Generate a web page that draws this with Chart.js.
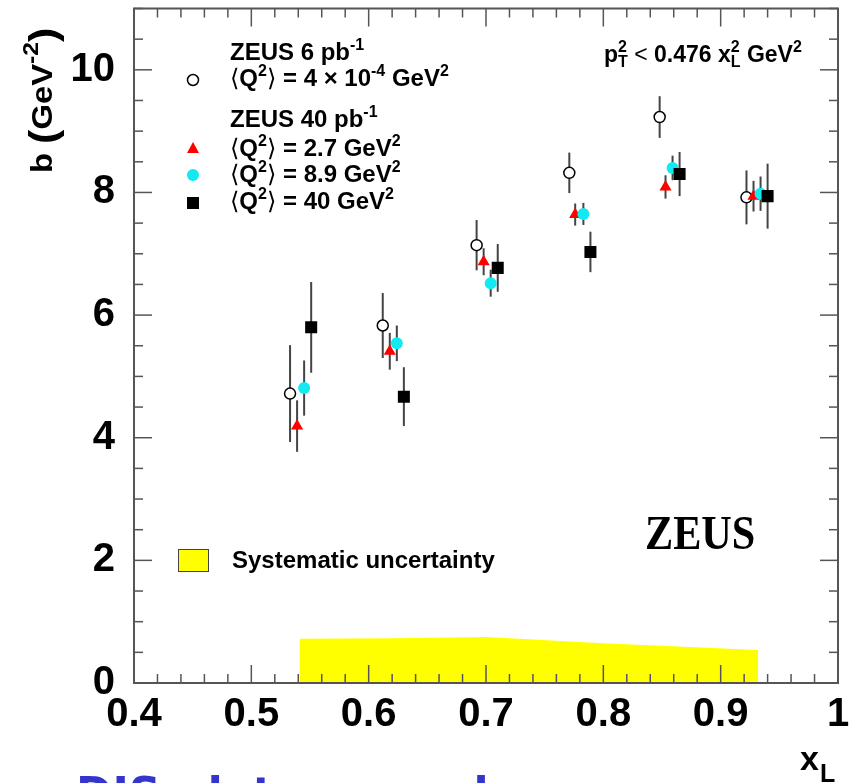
<!DOCTYPE html>
<html>
<head>
<meta charset="utf-8">
<script src="https://cdn.jsdelivr.net/npm/chart.js@4.4.0/dist/chart.umd.min.js"></script>
<style>
html, body { margin: 0; padding: 0; background: #fff; }
canvas { display: block; }
</style>
</head>
<body>
<canvas id="slopeChart" width="852" height="783"></canvas>
<script>
// ZEUS 6 pb-1, <Q2> = 4e-4 GeV2 (open circles)
const xCircle = [0.533, 0.612, 0.692, 0.771, 0.848, 0.922];
const bCircle = [4.72, 5.83, 7.14, 8.32, 9.23, 7.92];
const errCircle = [0.79, 0.53, 0.41, 0.33, 0.34, 0.44];

// ZEUS 40 pb-1, <Q2> = 2.7 GeV2 (red triangles)
const xTriangle = [0.539, 0.618, 0.698, 0.776, 0.853, 0.928];
const bTriangle = [4.19, 5.41, 6.87, 7.64, 8.09, 7.94];
const errTriangle = [0.42, 0.30, 0.22, 0.18, 0.19, 0.25];

// <Q2> = 8.9 GeV2 (cyan dots)
const xCyan = [0.545, 0.624, 0.704, 0.783, 0.859, 0.934];
const bCyan = [4.81, 5.54, 6.52, 7.65, 8.40, 7.98];
const errCyan = [0.45, 0.29, 0.22, 0.18, 0.20, 0.28];

// <Q2> = 40 GeV2 (black squares)
const xSquare = [0.551, 0.630, 0.710, 0.789, 0.865, 0.940];
const bSquare = [5.80, 4.67, 6.77, 7.03, 8.30, 7.94];
const errSquare = [0.74, 0.48, 0.39, 0.33, 0.36, 0.53];

// systematic uncertainty band
const xSyst = [0.541, 0.62, 0.70, 0.80, 0.932];
const syst = [0.72, 0.73, 0.75, 0.65, 0.54];

// axis ticks
const xTicks = [0.4, 0.5, 0.6, 0.7, 0.8, 0.9, 1.0];
const yTicks = [0, 2, 4, 6, 8, 10];

const FONT = '"Liberation Sans", Arial, "DejaVu Sans", sans-serif';

function points(xs, ys) {
    return xs.map((x, i) => ({ x: x, y: ys[i] }));
}

// text with superscripts / subscripts
function drawRich(ctx, x, y, parts, size) {
    parts.forEach(p => {
        if (p.t !== undefined) {
            ctx.font = (p.light ? '' : 'bold ') + size + 'px ' + FONT;
            ctx.fillText(p.t, x, y);
            x += ctx.measureText(p.t).width;
        } else {
            const small = Math.round(size * 0.68);
            ctx.font = 'bold ' + small + 'px ' + FONT;
            let w = 0;
            if (p.sup) {
                ctx.fillText(p.sup, x, y - size * 0.42);
                w = ctx.measureText(p.sup).width;
            }
            if (p.sub) {
                ctx.fillText(p.sub, x, y + size * 0.22);
                w = Math.max(w, ctx.measureText(p.sub).width);
            }
            x += w;
        }
    });
    return x;
}

const errorBars = {
    id: 'errorBars',
    beforeDatasetsDraw(chart) {
        const ctx = chart.ctx;
        const xs = chart.scales.x, ys = chart.scales.y;
        ctx.save();
        ctx.strokeStyle = '#444';
        ctx.lineWidth = 2;
        chart.data.datasets.forEach(ds => {
            if (!ds.errors) return;
            ds.data.forEach((p, i) => {
                const px = xs.getPixelForValue(p.x);
                ctx.beginPath();
                ctx.moveTo(px, ys.getPixelForValue(p.y - ds.errors[i]));
                ctx.lineTo(px, ys.getPixelForValue(p.y + ds.errors[i]));
                ctx.stroke();
            });
        });
        ctx.restore();
    }
};

const frame = {
    id: 'frame',
    afterDraw(chart) {
        const ctx = chart.ctx;
        const { left, right, top, bottom } = chart.chartArea;
        const xs = chart.scales.x, ys = chart.scales.y;
        ctx.save();
        ctx.strokeStyle = '#555';
        ctx.lineWidth = 1.5;
        const line = (x1, y1, x2, y2) => {
            ctx.beginPath(); ctx.moveTo(x1, y1); ctx.lineTo(x2, y2); ctx.stroke();
        };
        for (let i = 0; i <= 30; i++) {
            const px = xs.getPixelForValue(0.4 + i * 0.02);
            const len = i % 5 === 0 ? 18 : 9;
            line(px, bottom, px, bottom - len);
            line(px, top, px, top + len);
        }
        for (let i = 0; i <= 22; i++) {
            const py = ys.getPixelForValue(i * 0.5);
            const len = i % 4 === 0 ? 18 : 9;
            line(left, py, left + len, py);
            line(right, py, right - len, py);
        }
        ctx.lineWidth = 2;
        ctx.strokeRect(left, top, right - left, bottom - top);
        ctx.restore();
    }
};

const annotations = {
    id: 'annotations',
    afterDraw(chart) {
        const ctx = chart.ctx;
        ctx.save();
        ctx.fillStyle = '#000';
        ctx.textAlign = 'left';
        ctx.textBaseline = 'alphabetic';

        // legend
        drawRich(ctx, 230, 60, [{ t: 'ZEUS 6 pb' }, { sup: '-1' }], 24);
        drawRich(ctx, 230, 86, [{ t: '\u27E8', light: true }, { t: 'Q' }, { sup: '2' }, { t: '\u27E9', light: true }, { t: ' = 4 \u00D7 10' }, { sup: '-4' }, { t: ' GeV' }, { sup: '2' }], 24);
        drawRich(ctx, 230, 127, [{ t: 'ZEUS 40 pb' }, { sup: '-1' }], 24);
        drawRich(ctx, 230, 156, [{ t: '\u27E8', light: true }, { t: 'Q' }, { sup: '2' }, { t: '\u27E9', light: true }, { t: ' = 2.7 GeV' }, { sup: '2' }], 24);
        drawRich(ctx, 230, 182, [{ t: '\u27E8', light: true }, { t: 'Q' }, { sup: '2' }, { t: '\u27E9', light: true }, { t: ' = 8.9 GeV' }, { sup: '2' }], 24);
        drawRich(ctx, 230, 209, [{ t: '\u27E8', light: true }, { t: 'Q' }, { sup: '2' }, { t: '\u27E9', light: true }, { t: ' = 40 GeV' }, { sup: '2' }], 24);

        // legend markers
        ctx.lineWidth = 1.5;
        ctx.strokeStyle = '#000';
        ctx.fillStyle = '#fff';
        ctx.beginPath(); ctx.arc(193, 80, 5.5, 0, Math.PI * 2); ctx.fill(); ctx.stroke();
        ctx.fillStyle = '#ff0000';
        ctx.beginPath(); ctx.moveTo(193, 142); ctx.lineTo(199, 153); ctx.lineTo(187, 153); ctx.closePath(); ctx.fill();
        ctx.fillStyle = '#10eaf0';
        ctx.beginPath(); ctx.arc(193, 175, 6, 0, Math.PI * 2); ctx.fill();
        ctx.fillStyle = '#000';
        ctx.fillRect(187, 197, 12, 12);

        // cut text, top right
        drawRich(ctx, 604, 62, [{ t: 'p' }, { sub: 'T', sup: '2' }, { t: ' < ', light: true }, { t: '0.476 x' }, { sub: 'L', sup: '2' }, { t: ' GeV' }, { sup: '2' }], 23);

        // systematic uncertainty legend
        ctx.fillStyle = '#ffff00';
        ctx.fillRect(178, 549, 30, 22);
        ctx.strokeStyle = '#444';
        ctx.lineWidth = 1;
        ctx.strokeRect(178.5, 549.5, 30, 22);
        ctx.fillStyle = '#000';
        ctx.font = 'bold 24px ' + FONT;
        ctx.fillText('Systematic uncertainty', 232, 568);

        // ZEUS logo text
        ctx.save();
        ctx.translate(645, 549);
        ctx.scale(0.88, 1);
        ctx.font = 'bold 48px "Liberation Serif", "Times New Roman", serif';
        ctx.fillText('ZEUS', 0, 0);
        ctx.restore();

        // y axis title
        ctx.save();
        ctx.translate(52, 173);
        ctx.rotate(-Math.PI / 2);
        ctx.scale(1.13, 1);
        let x = 0;
        ctx.font = 'bold 29px ' + FONT;
        ctx.fillText('b ', x, 0); x += ctx.measureText('b ').width;
        ctx.font = 'bold 38px ' + FONT;
        ctx.fillText('(', x, 4); x += ctx.measureText('(').width;
        ctx.font = 'bold 29px ' + FONT;
        ctx.fillText('GeV', x, 0); x += ctx.measureText('GeV').width;
        ctx.font = 'bold 22px ' + FONT;
        ctx.fillText('-2', x, -14); x += ctx.measureText('-2').width;
        ctx.font = 'bold 38px ' + FONT;
        ctx.fillText(')', x, 4);
        ctx.restore();

        // x axis title
        ctx.font = 'bold 34px ' + FONT;
        ctx.fillText('x', 800, 770);
        ctx.font = 'bold 25px ' + FONT;
        ctx.fillText('L', 820, 782);

        // slide text below the figure, cut by the picture edge
        ctx.fillStyle = '#3535cc';
        ctx.font = 'bold 44px "DejaVu Sans", sans-serif';
        ctx.fillText('DIS  data  reveal', 76, 809);

        ctx.restore();
    }
};

const ctx = document.getElementById('slopeChart').getContext('2d');

new Chart(ctx, {
    type: 'scatter',
    data: {
        datasets: [
            {
                label: '<Q2> = 40 GeV2',
                data: points(xSquare, bSquare),
                errors: errSquare,
                pointStyle: 'rect',
                pointRadius: 8.5,
                backgroundColor: '#000',
                borderColor: '#000',
                borderWidth: 0,
                order: 0
            },
            {
                label: '<Q2> = 8.9 GeV2',
                data: points(xCyan, bCyan),
                errors: errCyan,
                pointStyle: 'circle',
                pointRadius: 6,
                backgroundColor: '#10eaf0',
                borderColor: '#10eaf0',
                borderWidth: 0,
                order: 1
            },
            {
                label: '<Q2> = 2.7 GeV2',
                data: points(xTriangle, bTriangle),
                errors: errTriangle,
                pointStyle: 'triangle',
                pointRadius: 7,
                backgroundColor: '#ff0000',
                borderColor: '#ff0000',
                borderWidth: 0,
                order: 2
            },
            {
                label: '<Q2> = 4e-4 GeV2',
                data: points(xCircle, bCircle),
                errors: errCircle,
                pointStyle: 'circle',
                pointRadius: 5.5,
                backgroundColor: '#fff',
                borderColor: '#000',
                borderWidth: 1.5,
                order: 3
            },
            {
                type: 'line',
                label: 'Systematic uncertainty',
                data: points(xSyst, syst),
                fill: 'origin',
                backgroundColor: '#ffff00',
                borderWidth: 0,
                pointRadius: 0,
                tension: 0,
                order: 5
            }
        ]
    },
    options: {
        responsive: false,
        animation: false,
        layout: { padding: { left: 0, right: 14, top: 7, bottom: 0 } },
        plugins: {
            legend: { display: false },
            tooltip: { enabled: false }
        },
        scales: {
            x: {
                type: 'linear',
                min: 0.4,
                max: 1.0,
                grid: { display: false, drawTicks: false },
                border: { display: false },
                afterBuildTicks: s => { s.ticks = xTicks.map(v => ({ value: v })); },
                afterFit: s => { s.height = 100; s.paddingLeft = 0; s.paddingRight = 0; },
                ticks: {
                    autoSkip: false,
                    maxRotation: 0,
                    padding: 8,
                    color: '#000',
                    font: { family: FONT, size: 40, weight: 'bold', lineHeight: 1.2 },
                    callback: v => Math.abs(v - 1) < 1e-9 ? '1' : v.toFixed(1)
                }
            },
            y: {
                type: 'linear',
                min: 0,
                max: 11,
                grid: { display: false, drawTicks: false },
                border: { display: false },
                afterBuildTicks: s => { s.ticks = yTicks.map(v => ({ value: v })); },
                afterFit: s => { s.width = 134; s.paddingTop = 0; s.paddingBottom = 0; },
                ticks: {
                    padding: 19,
                    color: '#000',
                    font: { family: FONT, size: 40, weight: 'bold' },
                    callback: v => String(v)
                }
            }
        }
    },
    plugins: [errorBars, frame, annotations]
});
</script>
</body>
</html>
